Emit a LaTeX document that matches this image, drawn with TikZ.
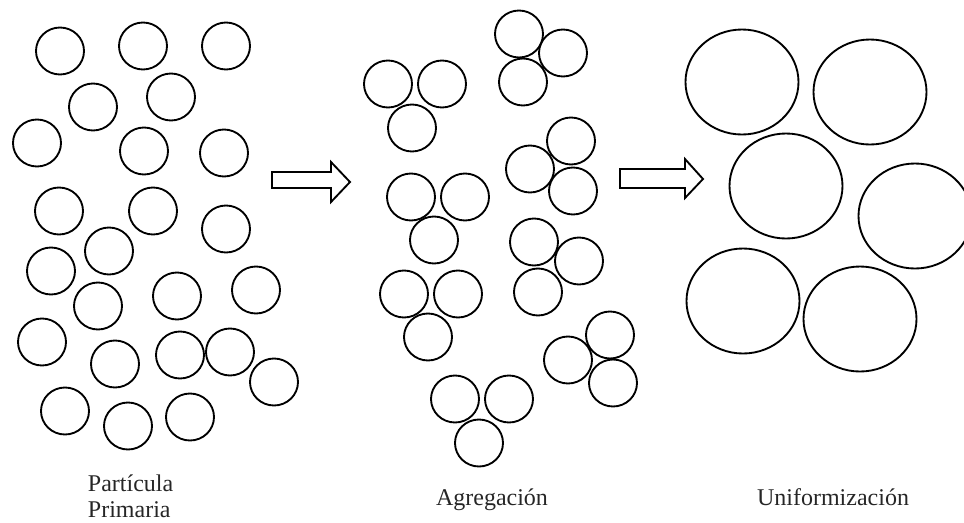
\documentclass[tikz,border=0pt]{standalone}
\usepackage{fontspec}
\setmainfont{Liberation Serif}
\usetikzlibrary{positioning}

\begin{document}
\begin{tikzpicture}[x=0.75pt, y=-0.75pt, line width=1.4pt,
  lbl/.style={font=\fontsize{18}{20}\selectfont, text=black!85, inner sep=0pt}]
  \useasboundingbox (0,0) rectangle (964,522);
  % Primary particles
  \foreach \x/\y in {60/51, 143/46, 226/46, 93/107, 171/97, 37/143, 144/151,
                     224/153, 59/211, 153/211, 226/229, 109/251, 51/271,
                     98/306, 177/296, 256/290, 42/342, 115/364, 180/355,
                     230/352, 274/382, 65/411, 128/426, 190/417}
    \draw (\x,\y) ellipse (24 and 23.5);
  % Aggregates
  \foreach \x/\y in {388/84, 442/84, 412/128, 519/34, 563/53, 523/82,
                     571/141, 530/169, 573/191, 411/197, 465/197, 434/240,
                     534/242, 579/261, 538/292, 404/294, 458/294, 428/337,
                     610/335, 568/360, 613/383, 455/399, 509/399, 479/443}
    \draw (\x,\y) ellipse (24 and 23.5);
  % Uniform particles
  \foreach \x/\y in {742/82, 870/92, 786/186, 915/216, 743/301, 860/319}
    \draw (\x,\y) ellipse (56.5 and 52.5);
  % Arrows
  \draw (272,172) -- (331,172) -- (331,162) -- (350,182) -- (331,202)
        -- (331,188) -- (272,188) -- cycle;
  \draw (620,169) -- (685,169) -- (685,159) -- (703,179) -- (685,198)
        -- (685,188) -- (620,188) -- cycle;
  % Labels
  \node[lbl, anchor=base west] (part) at (87,491) {Partícula};
  \node[lbl, anchor=base west] (prim) at (87,517) {Primaria};
  \node[lbl, anchor=base] (agr) at (492,505) {Agregación};
  \node[lbl, anchor=base] (unif) at (833,505) {Uniformización};
\end{tikzpicture}
\end{document}
